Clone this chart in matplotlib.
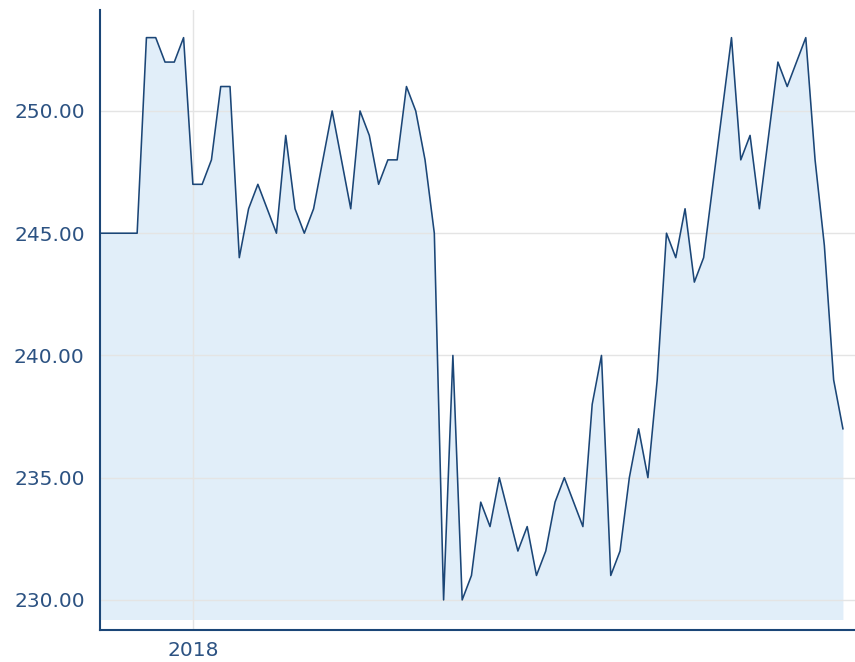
import matplotlib
matplotlib.use("Agg")
import matplotlib.pyplot as plt
import numpy as np
import pandas as pd

start_date = "2017-12-22"
values = [245, 245, 245, 245, 245, 253, 253, 252, 252, 253,
          247, 247, 248, 251, 251, 244, 246, 247, 246, 245,
          249, 246, 245, 246, 248, 250, 248, 246, 250, 249,
          247, 248, 248, 251, 250, 248, 245, 230, 240, 230,
          231, 234, 233, 235, 233.5, 232, 233, 231, 232, 234,
          235, 234, 233, 238, 240, 231, 232, 235, 237, 235,
          239, 245, 244, 246, 243, 244, 247, 250, 253, 248,
          249, 246, 249, 252, 251, 252, 253, 248, 244.5, 239,
          237]
dates = pd.date_range(start_date, periods=len(values), freq="D")
y_ticks = [230, 235, 240, 245, 250]
x_tick_dates = [pd.Timestamp("2018-01-01")]
x_tick_labels = ["2018"]

line_color = "#1b4677"
fill_color = "#e1eef9"
text_color = "#2c5282"
grid_color = "#e4e4e4"

fig = plt.figure(figsize=(8.55, 6.62), dpi=100)
ax = fig.add_axes([100 / 855, 1 - 630 / 662, 755 / 855, 620 / 662])

ax.fill_between(dates, values, 229.2, color=fill_color, zorder=0.3, linewidth=0)
ax.plot(dates, values, color=line_color, linewidth=1.15, zorder=2)

ax.set_ylim(228.77, 254.13)
ax.set_xlim(dates[0], dates[0] + pd.Timedelta(days=81.3))

ax.set_yticks(y_ticks)
ax.set_yticklabels([f"{v:.2f}" for v in y_ticks])
ax.set_xticks(x_tick_dates)
ax.set_xticklabels(x_tick_labels)

ax.set_axisbelow(True)
ax.grid(True, color=grid_color, linewidth=1.0)

for s in ["top", "right"]:
    ax.spines[s].set_visible(False)
for s in ["left", "bottom"]:
    ax.spines[s].set_color(line_color)
    ax.spines[s].set_linewidth(1.5)

ax.tick_params(axis="y", length=0, pad=11, labelsize=14.5, labelcolor=text_color)
ax.tick_params(axis="x", length=0, pad=8, labelsize=14.5, labelcolor=text_color)

fig.savefig("out.png", dpi=100)
